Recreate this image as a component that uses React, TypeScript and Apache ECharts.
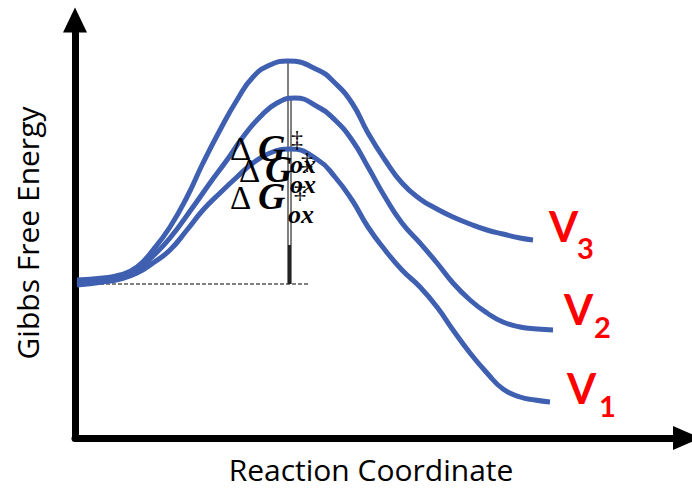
import React, { useEffect, useRef } from "react";
import * as echarts from "echarts";

// Reaction coordinate (x) and Gibbs free energy (y), in chart units
const v3Curve: [number, number][] = [
  [2, 158], [28, 160], [45, 163], [62, 171], [78, 188], [95, 211], [112, 241],
  [128, 275], [145, 308], [162, 338], [178, 361], [195, 373], [213, 377],
  [243, 368], [260, 355], [277, 335], [293, 305], [310, 278], [327, 255],
  [345, 239], [362, 229], [378, 221], [395, 214], [412, 208], [428, 204], [445, 200], [458, 198],
];
const v2Curve: [number, number][] = [
  [2, 155], [28, 158], [45, 161], [62, 168], [78, 182], [95, 200], [118, 231],
  [135, 255], [152, 278], [168, 301], [185, 321], [202, 335], [220, 340],
  [243, 331], [260, 318], [277, 298], [293, 271], [310, 241], [327, 215],
  [345, 195], [362, 175], [378, 155], [395, 138], [412, 125], [428, 116], [445, 111], [462, 109], [478, 108],
];
const v1Curve: [number, number][] = [
  [2, 153], [28, 156], [45, 159], [62, 165], [78, 175], [95, 188], [112, 208],
  [128, 228], [145, 245], [162, 261], [178, 275], [195, 285], [215, 289],
  [243, 278], [260, 261], [277, 238], [293, 211], [310, 188], [327, 168],
  [345, 151], [362, 131], [378, 108], [395, 85], [412, 65], [428, 49],
  [445, 41], [460, 38], [475, 36],
];
const baseline: [number, number][] = [[1, 154], [235, 154]];
const barrierV3: [number, number][] = [[213, 377], [213, 154]];
const barrierV2: [number, number][] = [[216, 338], [216, 154]];
const barrierV1: [number, number][] = [[214.5, 193], [214.5, 154]];

const curveColor = "#3F5FB0";

export default function App() {
  const ref = useRef<HTMLDivElement>(null);
  useEffect(() => {
    if (!ref.current) return;
    const chart = echarts.init(ref.current, null, { renderer: "svg" });
    const curve = (name: string, data: [number, number][]) => ({
      name,
      type: "line",
      data,
      smooth: 0.5,
      showSymbol: false,
      lineStyle: { color: curveColor, width: 5, cap: "butt" },
      z: 3,
    });
    const guide = (data: [number, number][], width: number, color: string, type: any = "solid") => ({
      type: "line",
      data,
      showSymbol: false,
      lineStyle: { color, width, type },
      z: 2,
    });
    const serif = "'Liberation Serif', 'DejaVu Serif', serif";
    const txt = (text: string, x: number, y: number, size: number, bi: boolean) => ({
      type: "text",
      x,
      y,
      z: 10,
      style: {
        text,
        fontFamily: serif,
        fontSize: size,
        fontWeight: bi ? "bold" : "normal",
        fontStyle: bi ? "italic" : "normal",
        fill: "#000",
        verticalAlign: "middle",
      },
    });
    const dG = (dx: number, dy: number, gx: number, gy: number, sx: number, sy: number, ox: number, oy: number) => [
      txt("Δ", dx, dy, 33, false),
      txt("G", gx, gy, 38, true),
      txt("‡", sx, sy, 24, false),
      txt("ox", ox, oy, 26, true),
    ];
    const sans = "Lato, 'Open Sans', sans-serif";
    const vLabel = (x: number, y: number, sub: string, sx: number, sy: number) => [
      {
        type: "text",
        x,
        y,
        style: { text: "V", fontFamily: sans, fontWeight: "bold", fontSize: 42, fill: "#FF0000", verticalAlign: "middle" },
        z: 10,
      },
      {
        type: "text",
        x: sx,
        y: sy,
        style: { text: sub, fontFamily: sans, fontWeight: "bold", fontSize: 29, fill: "#FF0000", verticalAlign: "middle" },
        z: 10,
      },
    ];
    chart.setOption({
      animation: false,
      backgroundColor: "#fff",
      grid: { left: 75, right: 5, top: 20, bottom: 51, containLabel: false, outerBoundsMode: "none" },
      xAxis: {
        type: "value",
        min: 0,
        max: 612,
        name: "Reaction Coordinate",
        nameLocation: "middle",
        nameGap: 16,
        nameTextStyle: { fontFamily: "'Open Sans', sans-serif", fontSize: 30, lineHeight: 30, color: "#000", padding: [0, 20, 0, 0] },
        axisLine: {
          show: true,
          onZero: false,
          symbol: ["none", "triangle"],
          symbolSize: [24, 28],
          lineStyle: { color: "#000", width: 7 },
        },
        axisTick: { show: false },
        axisLabel: { show: false },
        splitLine: { show: false },
      },
      yAxis: {
        type: "value",
        min: 0,
        max: 418,
        name: "Gibbs Free Energy",
        nameLocation: "middle",
        nameGap: 33,
        nameTextStyle: { fontFamily: "'Open Sans', sans-serif", fontSize: 30, color: "#000", padding: [0, 8, 0, 0] },
        axisLine: {
          show: true,
          onZero: false,
          symbol: ["none", "triangle"],
          symbolSize: [24, 25],
          lineStyle: { color: "#000", width: 7 },
        },
        axisTick: { show: false },
        axisLabel: { show: false },
        splitLine: { show: false },
      },
      series: [
        guide(baseline, 1, "#000", [4, 2]),
        guide(barrierV3, 1, "#000"),
        guide(barrierV2, 1, "#000"),
        guide(barrierV1, 3, "#222"),
        curve("V3", v3Curve),
        curve("V2", v2Curve),
        curve("V1", v1Curve),
      ],
      graphic: [
        ...dG(230, 149, 258, 148, 291, 139, 290, 164),
        ...dG(239, 171, 265, 169, 301, 161, 290, 184),
        ...dG(230, 197.5, 258, 196, 294, 190, 288, 214),
        ...vLabel(549, 226, "3", 577, 247),
        ...vLabel(564, 309, "2", 594, 326),
        ...vLabel(567, 388, "1", 599, 405),
      ],
    });
    return () => chart.dispose();
  }, []);
  return <div ref={ref} style={{ position: "fixed", left: 0, top: 0, width: 692, height: 489 }} />;
}
